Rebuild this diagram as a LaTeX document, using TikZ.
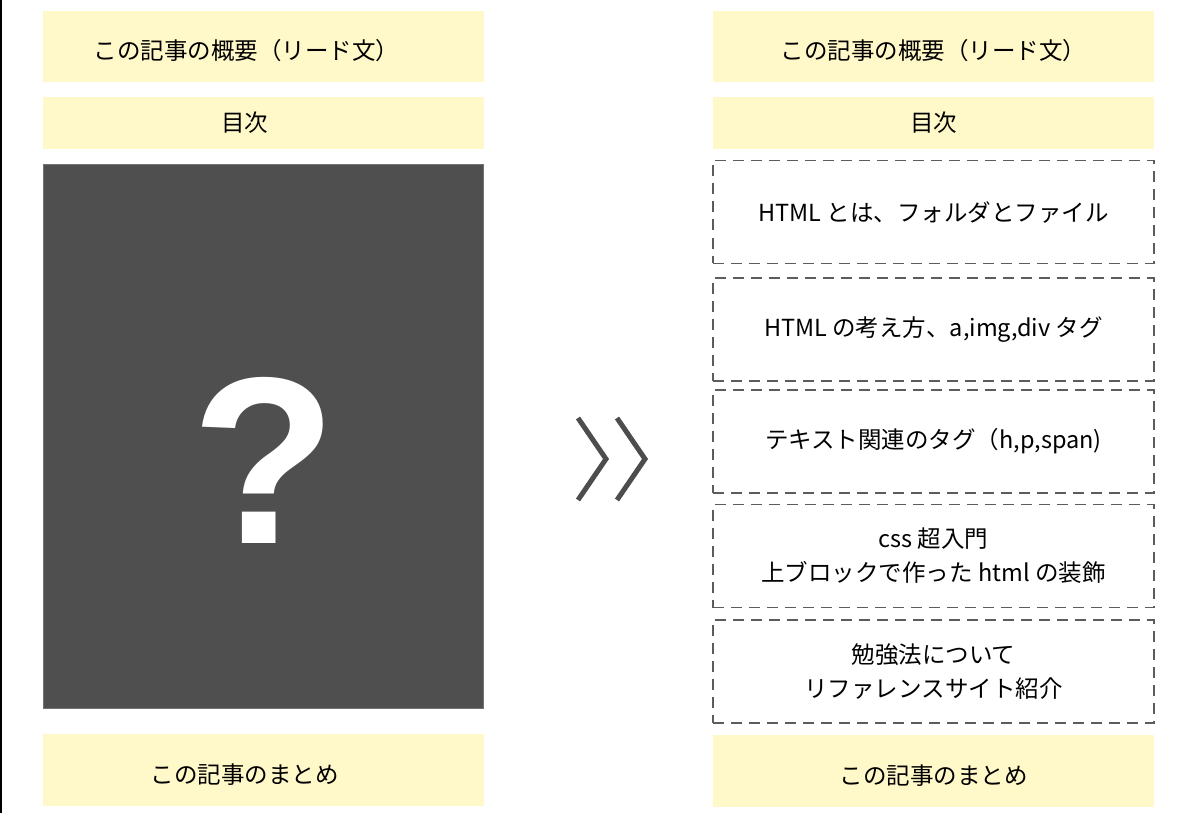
\documentclass[tikz,border=0pt]{standalone}
\usepackage{fontspec}
\setmainfont{Noto Sans CJK JP}
\newfontfamily\qfont{Liberation Sans}
\usepackage{tikz}

\definecolor{notebg}{HTML}{FFF8C9}
\definecolor{darkfill}{HTML}{4F4F4F}
\definecolor{dashgray}{HTML}{5C5C5C}
\definecolor{arrowgray}{HTML}{4D4D4D}

\begin{document}
\begin{tikzpicture}[x=1pt,y=-1pt,
  every node/.style={font=\fontsize{23.5}{34}\selectfont,align=center,inner sep=0pt},
  notebox/.style={fill=notebg,minimum width=441pt},
  dashbox/.style={draw=dashgray,line width=1.5pt,dash pattern=on 11pt off 7pt,
                  minimum width=441pt,minimum height=103pt},
  darkbox/.style={fill=darkfill,draw=black!55,line width=1pt,minimum width=440pt},
  qmark/.style={font=\qfont\bfseries\fontsize{238}{238}\selectfont,text=white},
  chevron/.style={draw=arrowgray,line width=5pt,line join=miter}
  ]
  \useasboundingbox (0,0) rectangle (1197,813);
  \draw[line width=1.5pt] (0.75,0) -- (0.75,813);

  % before
  \node[notebox,minimum height=71pt] (leadL) at (263.5,46.5) {};
  \node[xshift=-17pt,yshift=-4pt] (leadLtext) at (leadL) {この記事の概要（リード文）};
  \node[notebox,minimum height=52pt] (tocL) at (263.5,123) {};
  \node[xshift=-19pt] (tocLtext) at (tocL) {目次};
  \node[darkbox,minimum height=544pt] (mystery) at (263.5,436.5) {};
  \node[qmark] (qm) at (264,460) {?};
  \node[notebox,minimum height=72pt] (sumL) at (263.5,770) {};
  \node[xshift=-19pt,yshift=-5pt] (sumLtext) at (sumL) {この記事のまとめ};

  % arrow
  \draw[chevron] (578,418) -- (606,459) -- (578,500);
  \draw[chevron] (617,418) -- (645,459) -- (617,500);

  % after
  \node[notebox,minimum height=71pt] (leadR) at (933.5,46.5) {};
  \node[yshift=-4pt] (leadRtext) at (leadR) {この記事の概要（リード文）};
  \node[notebox,minimum height=52pt] (tocR) at (933.5,123) {目次};
  \node[dashbox] (part1) at (933.5,212) {HTML とは、フォルダとファイル};
  \node[dashbox] (part2) at (933.5,329.5) {HTML の考え方、a,img,div タグ};
  \node[dashbox] (part3) at (933.5,441.5) {テキスト関連のタグ（h,p,span)};
  \node[dashbox] (part4) at (933.5,556) {css 超入門\\上ブロックで作った html の装飾};
  \node[dashbox] (part5) at (933.5,671.5) {勉強法について\\リファレンスサイト紹介};
  \node[notebox,minimum height=72pt] (sumR) at (933.5,770.5) {};
  \node[yshift=-5pt] (sumRtext) at (sumR) {この記事のまとめ};
\end{tikzpicture}
\end{document}
